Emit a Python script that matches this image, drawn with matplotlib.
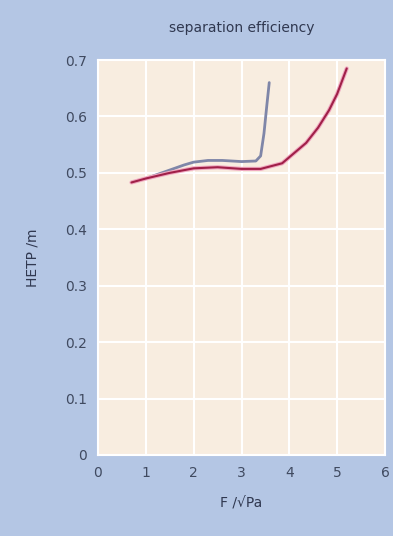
import matplotlib
matplotlib.use("Agg")
import matplotlib.pyplot as plt

# data
blue_F = [0.7, 1.0, 1.5, 1.8, 2.0, 2.3, 2.6, 3.0, 3.3, 3.4, 3.47, 3.53, 3.58]
blue_H = [0.483, 0.490, 0.505, 0.514, 0.519, 0.522, 0.522, 0.520, 0.521, 0.530, 0.570, 0.620, 0.660]
red_F = [0.7, 1.0, 1.5, 2.0, 2.5, 3.0, 3.4, 3.85, 4.35, 4.6, 4.83, 5.0, 5.2]
red_H = [0.483, 0.490, 0.500, 0.508, 0.510, 0.507, 0.507, 0.517, 0.553, 0.580, 0.611, 0.640, 0.685]
xticks = [0, 1, 2, 3, 4, 5, 6]
yticks = [0, 0.1, 0.2, 0.3, 0.4, 0.5, 0.6, 0.7]
ytick_labels = ["0", "0.1", "0.2", "0.3", "0.4", "0.5", "0.6", "0.7"]

fig = plt.figure(figsize=(3.93, 5.36), dpi=100, facecolor="#b4c6e4")
ax = fig.add_axes([98/393, 1-455/536, 287/393, 395/536])
ax.set_facecolor("#f8ede0")
ax.plot(blue_F, blue_H, color="#7f86a8", lw=2.0, solid_capstyle="round")
ax.plot(red_F, red_H, color="#f0a8c0", lw=3.0, solid_capstyle="round")
ax.plot(red_F, red_H, color="#a02048", lw=1.5, solid_capstyle="round")
ax.set_xlim(0, 6)
ax.set_ylim(0, 0.7)
ax.set_xticks(xticks)
ax.set_yticks(yticks)
ax.set_yticklabels(ytick_labels)
ax.grid(True, color="white", lw=1.5)
ax.set_axisbelow(True)
for s in ax.spines.values():
    s.set_color("white")
    s.set_linewidth(1.5)
ax.tick_params(length=0, labelsize=10, colors="#404a60", pad=8)
ax.set_title("separation efficiency", fontsize=10, color="#303850", pad=20)
ax.set_xlabel("F /√Pa", fontsize=10, color="#303850", labelpad=12)
ax.set_ylabel("HETP /m", fontsize=10, color="#303850", labelpad=18)
fig.savefig("out.png", dpi=100, facecolor=fig.get_facecolor())
